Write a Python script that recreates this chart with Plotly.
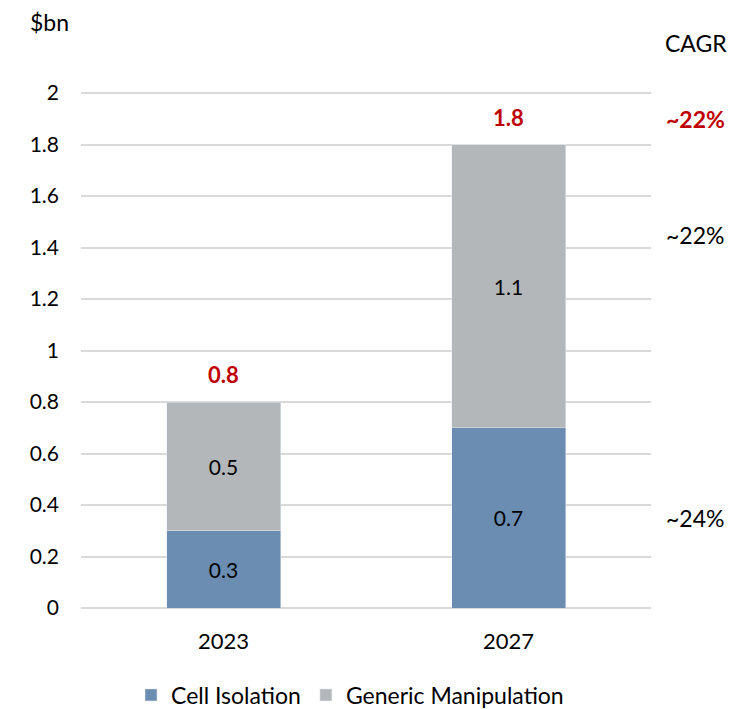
import plotly.graph_objects as go

years = ["2023", "2027"]
cell_isolation = [0.3, 0.7]
generic_manipulation = [0.5, 1.1]
totals = [0.8, 1.8]
tick_vals = [0, 0.2, 0.4, 0.6, 0.8, 1, 1.2, 1.4, 1.6, 1.8, 2]
tick_text = ["0", "0.2", "0.4", "0.6", "0.8", "1", "1.2", "1.4", "1.6", "1.8", "2"]
cagr_labels = ["~22%", "~22%", "~24%"]
cagr_y = [1.9, 1.45, 0.35]

FONT = "Lato"
BLUE = "#6a8db1"
GREY = "#b4b7ba"
RED = "#c00000"

# page has an 8px body margin; figure placed so that the plot area lands at x 81..651, y 92..608
W, H = 738, 701
L, R, T, B = 73, 95, 84, 101

fig = go.Figure()
fig.add_trace(go.Bar(
    x=years, y=cell_isolation, name="Cell Isolation",
    marker=dict(color=BLUE),
    text=[str(v) for v in cell_isolation], textposition="inside",
    insidetextanchor="middle",
    textfont=dict(color="black", size=21, family=FONT),
))
fig.add_trace(go.Bar(
    x=years, y=generic_manipulation, name="Generic Manipulation",
    marker=dict(color=GREY),
    text=[str(v) for v in generic_manipulation], textposition="inside",
    insidetextanchor="middle",
    textfont=dict(color="black", size=21, family=FONT),
))

# totals above bars (x given as category index so the category axis maps it correctly)
for i, t in enumerate(totals):
    fig.add_annotation(x=i, y=t, yanchor="bottom", yshift=12, text=f"<b>{t}</b>",
                       showarrow=False, font=dict(color=RED, size=22, family=FONT),
                       xref="x", yref="y")

fig.add_annotation(x=-0.056, xref="paper", xanchor="center", y=1.136, yref="paper",
                   yanchor="middle", text="$bn", showarrow=False,
                   font=dict(size=23, color="black", family=FONT))
fig.add_annotation(x=1.079, xref="paper", xanchor="center", y=1.095, yref="paper",
                   yanchor="middle", text="CAGR", showarrow=False,
                   font=dict(size=23, color="black", family=FONT))
for i, (lab, yy) in enumerate(zip(cagr_labels, cagr_y)):
    txt = f"<b>{lab}</b>" if i == 0 else lab
    col = RED if i == 0 else "black"
    fig.add_annotation(x=1.078, xref="paper", xanchor="center", y=yy, yref="y",
                       yanchor="middle", text=txt, showarrow=False,
                       font=dict(size=23, color=col, family=FONT))

fig.update_layout(
    barmode="stack",
    bargap=0.6,
    width=W, height=H,
    margin=dict(l=L, r=R, t=T, b=B, autoexpand=False),
    plot_bgcolor="white", paper_bgcolor="white",
    font=dict(family=FONT, size=21, color="black"),
    showlegend=True,
    legend=dict(orientation="h", traceorder="normal",
                xref="container", x=(350 - 8) / W, xanchor="center",
                yref="container", y=14 / H, yanchor="middle",
                font=dict(size=23, family=FONT)),
    xaxis=dict(type="category", showgrid=False, ticks="", automargin=False,
               ticklabelstandoff=18, tickfont=dict(size=22)),
    yaxis=dict(range=[0, 2.004], tickvals=tick_vals, ticktext=tick_text,
               showgrid=True, gridcolor="#d9d9d9", gridwidth=1.5,
               zeroline=True, zerolinecolor="#d9d9d9", zerolinewidth=2,
               ticks="", ticklabelstandoff=21, automargin=False,
               tickfont=dict(size=21)),
)

fig.write_html("out.html")
